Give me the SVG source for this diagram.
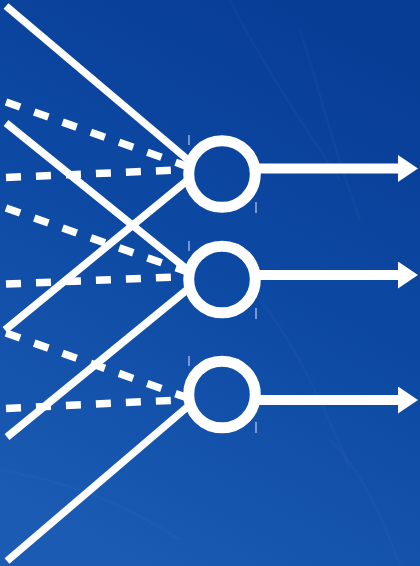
<svg xmlns="http://www.w3.org/2000/svg" width="420" height="566" viewBox="0 0 420 566">
  <defs>
    <linearGradient id="bg" x1="0.7" y1="0" x2="0.3" y2="1">
      <stop offset="0" stop-color="#083d96"/>
      <stop offset="0.5" stop-color="#0d4aa4"/>
      <stop offset="1" stop-color="#1b5bb3"/>
    </linearGradient>
    <marker id="head" markerUnits="userSpaceOnUse" viewBox="0 0 20 27" markerWidth="20" markerHeight="27" refX="0" refY="13.5" orient="auto">
      <path d="M0,0 L20,13.5 L0,27 Z" fill="#fff"/>
    </marker>
    <mask id="holes" maskUnits="userSpaceOnUse" x="0" y="0" width="420" height="566">
      <rect width="420" height="566" fill="#fff"/>
      <circle cx="222" cy="174" r="30" fill="#000"/>
      <circle cx="222" cy="279.5" r="30" fill="#000"/>
      <circle cx="222" cy="394.5" r="30" fill="#000"/>
    </mask>
    <style>
      .solid { stroke: #fff; stroke-width: 7.5; fill: none; }
      .dash { stroke: #fff; stroke-width: 7.5; fill: none; stroke-dasharray: 15 15; }
      .arrow { stroke: #fff; stroke-width: 10; fill: none; marker-end: url(#head); }
      .node { stroke: #fff; stroke-width: 11; fill: none; }
      .guide { stroke: #c4d3ee; stroke-width: 1.5; opacity: 0.75; }
      .tex { stroke: #6f9ad8; fill: none; stroke-width: 3; opacity: 0.05; }
    </style>
  </defs>

  <rect width="420" height="566" fill="url(#bg)"/>
  <g id="texture">
    <path class="tex" d="M230,0 C260,60 300,120 340,180"/>
    <path class="tex" d="M300,30 C320,90 330,140 360,220"/>
    <path class="tex" d="M260,300 C300,350 330,420 350,470"/>
    <path class="tex" d="M0,470 C60,480 120,500 180,540"/>
    <path class="tex" d="M330,440 C360,470 380,510 400,566"/>
  </g>

  <g id="connectors">
    <g mask="url(#holes)">
      <!-- to node 1 -->
      <line class="solid" x1="6" y1="6" x2="200" y2="170"/>
      <line class="dash" x1="6" y1="102" x2="200" y2="171"/>
      <line class="dash" x1="6" y1="177.5" x2="200" y2="169"/>
      <line class="solid" x1="200" y1="170" x2="5" y2="330"/>
      <!-- to node 2 -->
      <line class="solid" x1="6" y1="123" x2="199" y2="279"/>
      <line class="dash" x1="6" y1="208" x2="199" y2="276"/>
      <line class="dash" x1="6" y1="284" x2="199" y2="276"/>
      <line class="solid" x1="199" y1="280" x2="7" y2="437"/>
      <!-- to node 3 -->
      <line class="dash" x1="6" y1="333" x2="199" y2="402"/>
      <line class="dash" x1="6" y1="408.5" x2="199" y2="399"/>
      <line class="solid" x1="199" y1="397" x2="7" y2="561"/>
    </g>
    <!-- outputs -->
    <line class="arrow" x1="252" y1="168.5" x2="398" y2="168.5"/>
    <line class="arrow" x1="252" y1="275" x2="398" y2="275"/>
    <line class="arrow" x1="252" y1="400" x2="398" y2="400"/>
  </g>

  <g id="node1">
    <circle class="node" cx="222" cy="174" r="33.3"/>
    <line class="guide" x1="189" y1="135" x2="189" y2="145"/>
    <line class="guide" x1="256" y1="202" x2="256" y2="213"/>
  </g>
  <g id="node2">
    <circle class="node" cx="222" cy="279.5" r="33.3"/>
    <line class="guide" x1="189" y1="241" x2="189" y2="251"/>
    <line class="guide" x1="256" y1="308" x2="256" y2="319"/>
  </g>
  <g id="node3">
    <circle class="node" cx="222" cy="394.5" r="33.3"/>
    <line class="guide" x1="189" y1="356" x2="189" y2="366"/>
    <line class="guide" x1="256" y1="422" x2="256" y2="433"/>
  </g>
</svg>
